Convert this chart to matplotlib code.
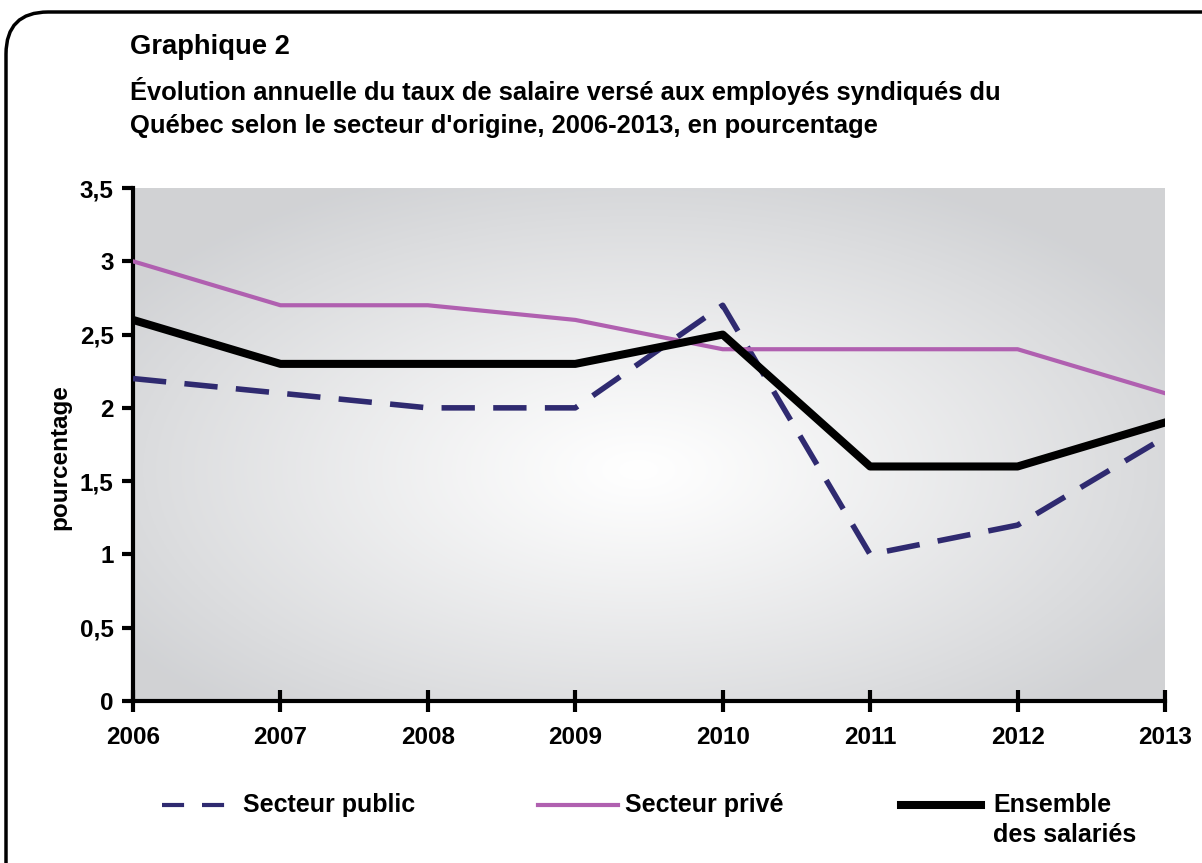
import matplotlib.pyplot as plt
import numpy as np
from matplotlib.patches import FancyBboxPatch
from matplotlib.lines import Line2D

plt.rcParams['font.family'] = ['Liberation Sans', 'DejaVu Sans']
plt.rcParams['font.weight'] = 'bold'

annees = [2006, 2007, 2008, 2009, 2010, 2011, 2012, 2013]
public = [2.2, 2.1, 2.0, 2.0, 2.7, 1.0, 1.2, 1.8]
prive = [3.0, 2.7, 2.7, 2.6, 2.4, 2.4, 2.4, 2.1]
ensemble = [2.6, 2.3, 2.3, 2.3, 2.5, 1.6, 1.6, 1.9]
yticks = [0, 0.5, 1, 1.5, 2, 2.5, 3, 3.5]
ylabels = ['0', '0,5', '1', '1,5', '2', '2,5', '3', '3,5']

c_public = '#2f2a70'
c_prive = '#b060b0'

fig = plt.figure(figsize=(12.02, 8.63), dpi=100)

# rounded frame
frame = FancyBboxPatch((6 / 1202, -0.05), 1.05, 1.05 - 12 / 863,
                       boxstyle='round,pad=0,rounding_size=0.035',
                       transform=fig.transFigure, fill=False,
                       edgecolor='black', linewidth=2.5, clip_on=False,
                       mutation_aspect=1202 / 863)
fig.patches.append(frame)

ax = fig.add_axes([133 / 1202, 162 / 863, 1032 / 1202, 513 / 863])

# radial gray background
gx, gy = np.meshgrid(np.linspace(0, 1, 400), np.linspace(0, 1, 300))
r = np.sqrt(((gx - 0.49) / 0.6) ** 2 + ((gy - 0.45) / 0.62) ** 2)
r = np.clip(r, 0, 1) ** 1.1
edge = np.array([0.82, 0.825, 0.835])
img = 1 - (1 - edge)[None, None, :] * r[:, :, None]
ax.imshow(img, extent=[0, 1, 0, 1], transform=ax.transAxes, aspect='auto',
          origin='lower', zorder=0)

ax.plot(annees, public, color=c_public, lw=4, linestyle=(0, (6, 3.3)),
        zorder=3)
ax.plot(annees, prive, color=c_prive, lw=3, zorder=3)
ax.plot(annees, ensemble, color='black', lw=5.8, zorder=4)

ax.set_xlim(2006, 2013)
ax.set_ylim(0, 3.5)
ax.set_xticks(annees)
ax.set_xticklabels([str(a) for a in annees], fontsize=17.5, fontweight='bold')
ax.set_yticks(yticks)
ax.set_yticklabels(ylabels, fontsize=17.5, fontweight='bold')
ax.tick_params(axis='x', direction='inout', length=16, width=3, pad=10)
ax.tick_params(axis='y', direction='out', length=8, width=3, pad=6)
for s in ['top', 'right']:
    ax.spines[s].set_visible(False)
for s in ['left', 'bottom']:
    ax.spines[s].set_linewidth(3)
ax.set_ylabel('pourcentage', fontsize=17.5, fontweight='bold')
ax.yaxis.set_label_coords(-0.06, 0.476)

fig.text(130 / 1202, 1 - 47 / 863, 'Graphique 2', fontsize=19.7,
         fontweight='bold', va='center')
fig.text(130 / 1202, 1 - 91 / 863,
         "Évolution annuelle du taux de salaire versé aux employés syndiqués du",
         fontsize=18.4, fontweight='bold', va='center')
fig.text(130 / 1202, 1 - 126 / 863,
         "Québec selon le secteur d'origine, 2006-2013, en pourcentage",
         fontsize=18.4, fontweight='bold', va='center')

# legend
ly = 1 - 805 / 863
fig.add_artist(Line2D([162 / 1202, 228 / 1202], [ly, ly], color=c_public,
                      lw=3, linestyle=(0, (5.3, 4.3))))
fig.text(243 / 1202, ly, 'Secteur public', fontsize=18, fontweight='bold',
         va='center')
fig.add_artist(Line2D([538 / 1202, 618 / 1202], [ly, ly], color=c_prive, lw=3))
fig.text(625 / 1202, ly, 'Secteur privé', fontsize=18, fontweight='bold',
         va='center')
fig.add_artist(Line2D([901 / 1202, 981 / 1202], [ly, ly], color='black',
                      lw=5.8))
fig.text(993 / 1202, ly, 'Ensemble', fontsize=18, fontweight='bold',
         va='center')
fig.text(993 / 1202, 1 - 835 / 863, 'des salariés', fontsize=18,
         fontweight='bold', va='center')

fig.savefig('out.png', dpi=100)
